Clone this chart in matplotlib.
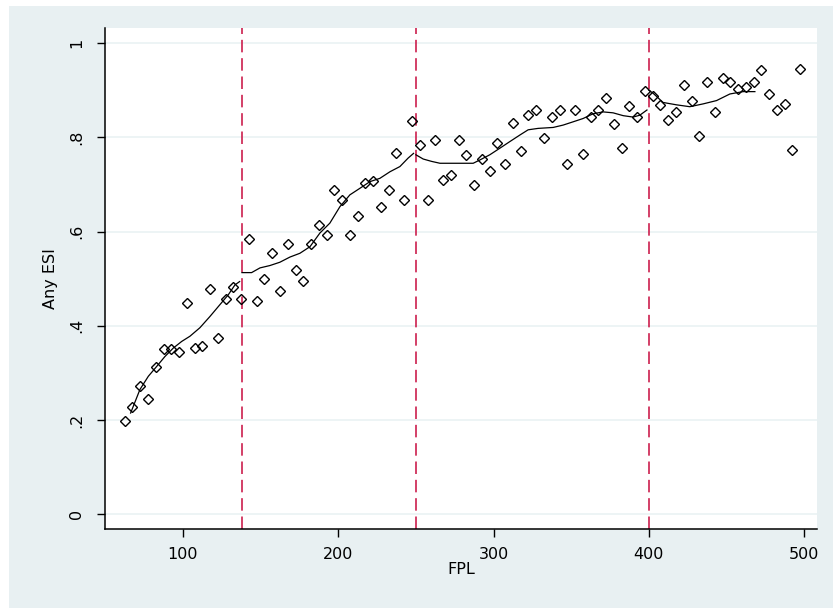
import numpy as np
import matplotlib.pyplot as plt
from matplotlib.patches import Rectangle

# binned share with any ESI, by FPL bin midpoint
fpl_bins = np.arange(62.5, 500, 5.0)
any_esi = [0.198, 0.227, 0.272, 0.245, 0.312, 0.350, 0.350, 0.345, 0.449, 0.353,
           0.357, 0.478, 0.375, 0.458, 0.482, 0.458, 0.585, 0.453, 0.499, 0.555,
           0.475, 0.574, 0.518, 0.496, 0.574, 0.614, 0.592, 0.689, 0.667, 0.592,
           0.633, 0.704, 0.708, 0.652, 0.689, 0.766, 0.667, 0.835, 0.784, 0.667,
           0.794, 0.710, 0.721, 0.794, 0.762, 0.699, 0.754, 0.729, 0.789, 0.744,
           0.830, 0.771, 0.847, 0.857, 0.798, 0.843, 0.858, 0.743, 0.858, 0.765,
           0.843, 0.858, 0.884, 0.828, 0.777, 0.867, 0.843, 0.898, 0.888, 0.869,
           0.837, 0.854, 0.910, 0.877, 0.802, 0.917, 0.854, 0.925, 0.917, 0.902,
           0.906, 0.917, 0.942, 0.891, 0.857, 0.870, 0.773, 0.946]

# local fit, estimated separately between cutoffs
fit_x = [
    [66.3, 72.3, 77.7, 83.1, 88.4, 93.8, 99.2, 104.5, 110.9, 117.4, 123.8, 129.2, 133.5, 136.5],
    [138.0, 144.2, 149.6, 156.0, 162.4, 168.9, 175.3, 181.8, 188.2, 194.6, 201.1, 207.5,
     214.0, 220.4, 226.8, 233.3, 239.7, 245.0, 248.5],
    [250.0, 254.7, 260.1, 265.5, 271.9, 278.3, 286.9, 291.2, 297.6, 304.1, 310.5, 317.0,
     322.3, 328.7, 338.4, 344.8, 351.3, 357.7, 364.1, 370.6, 377.0, 383.5, 389.9, 394.2, 398.8],
    [400.0, 402.6, 409.2, 417.8, 426.4, 435.0, 443.6, 452.2, 460.7, 468.3],
]
fit_y = [
    [0.215, 0.265, 0.293, 0.314, 0.335, 0.353, 0.367, 0.378, 0.396, 0.420, 0.445, 0.466, 0.487, 0.494],
    [0.513, 0.513, 0.523, 0.528, 0.535, 0.546, 0.554, 0.568, 0.597, 0.618, 0.653, 0.678,
     0.692, 0.706, 0.713, 0.727, 0.738, 0.756, 0.766],
    [0.763, 0.754, 0.749, 0.745, 0.745, 0.745, 0.745, 0.752, 0.763, 0.777, 0.791, 0.805,
     0.816, 0.819, 0.821, 0.826, 0.833, 0.840, 0.850, 0.854, 0.852, 0.846, 0.843, 0.847, 0.858],
    [0.900, 0.894, 0.874, 0.869, 0.865, 0.871, 0.878, 0.892, 0.897, 0.897],
]

cutoffs = [138, 250, 400]
yticks = [0, 0.2, 0.4, 0.6, 0.8, 1.0]
ytick_labels = ["0", ".2", ".4", ".6", ".8", "1"]
xticks = [100, 200, 300, 400, 500]

plt.rcParams['font.family'] = ['DejaVu Sans']

fig = plt.figure(figsize=(8.33, 6.08), dpi=100, facecolor='white')
fig.patches.append(Rectangle((9 / 833, 0), 1, 1 - 6 / 608, transform=fig.transFigure,
                             facecolor='#E8F0F2', edgecolor='none', zorder=-5))

ax = fig.add_axes([105 / 833, 1 - 529 / 608, 712 / 833, 501 / 608])
ax.set_facecolor('white')

for y in yticks:
    ax.axhline(y, color='#EAF2F3', lw=1.2, zorder=0)

for c in cutoffs:
    ax.axvline(c, color='#CC1F4E', lw=1.2, dashes=(7.5, 3.5), zorder=1)

ax.plot(fpl_bins, any_esi, linestyle='none', marker='D', markersize=5.6,
        markerfacecolor='none', markeredgecolor='black', markeredgewidth=1.0, zorder=3)

for xs, ys in zip(fit_x, fit_y):
    ax.plot(xs, ys, color='black', lw=0.9, zorder=2)

ax.set_xlim(49.8, 508.3)
ax.set_ylim(-0.031, 1.032)

ax.set_xticks(xticks)
ax.set_yticks(yticks)
ax.set_yticklabels(ytick_labels, rotation=90, va='center')

ax.tick_params(axis='both', direction='out', length=6, width=1, colors='black', labelsize=11.5)
ax.tick_params(axis='x', pad=7)
ax.tick_params(axis='y', pad=9)

for side in ['top', 'right']:
    ax.spines[side].set_visible(False)
for side in ['left', 'bottom']:
    ax.spines[side].set_linewidth(1.1)

ax.set_xlabel('FPL', fontsize=11.5, labelpad=0)
ax.set_ylabel('Any ESI', fontsize=11.5, labelpad=8)

fig.savefig('out.png', dpi=100, facecolor=fig.get_facecolor())
